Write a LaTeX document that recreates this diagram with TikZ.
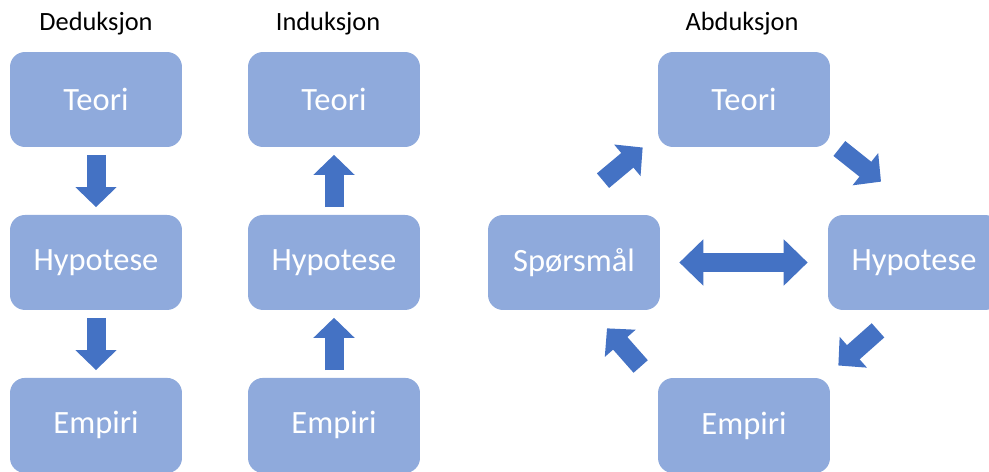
\documentclass[tikz,border=0pt]{standalone}
\usepackage{fontspec}
\setmainfont{Carlito}
\usepackage{tikz}
\usetikzlibrary{arrows.meta}
\usetikzlibrary{calc}
\definecolor{boxblue}{HTML}{8FAADC}
\definecolor{arrowblue}{HTML}{4472C4}

\begin{document}
\begin{tikzpicture}[x=0.02cm,y=-0.02cm,node distance=3.26cm,
			main node/.style={rectangle,rounded corners=0.3cm,fill=boxblue,
				text=white,minimum width=3.44cm,minimum height=1.9cm,
				font=\fontsize{18.5}{22}\selectfont},
			title node/.style={font=\fontsize{15}{18}\selectfont},
			fat arrow/.style={arrowblue,line width=0.38cm,
				-{Triangle[length=0.4cm,width=0.8cm]}},
			gap/.style={shorten <=0.15cm,shorten >=0.15cm}]
			\useasboundingbox (0,0) rectangle (989,472);
			
			% Deduksjon
			\node[title node] (T1) at (96,24) {Deduksjon};
			\node[main node] (A) at (96,99.5) {Teori};
			\node[main node] (B) [below of=A] {Hypotese};
			\node[main node] (C) [below of=B] {Empiri};
			
			% Induksjon
			\node[title node] (T2) at (328,24) {Induksjon};
			\node[main node] (D) at (334,99.5) {Teori};
			\node[main node] (E) [below of=D] {Hypotese};
			\node[main node] (F) [below of=E] {Empiri};
			
			% Abduksjon
			\node[title node] (T3) at (742,24) {Abduksjon};
			\node[main node] (G) at (744,99.5) {Teori};
			\node[main node] (H) at (574,262.5) {Spørsmål};
			\node[main node] (I) at (914,262.5) {Hypotese};
			\node[main node] (J) at (744,425.5) {Empiri};
			
			\path[fat arrow,gap]
			(A) edge (B)
			(B) edge (C)
			(E) edge (D)
			(F) edge (E);
			
			\draw[arrowblue,line width=0.4cm,
				{Triangle[length=0.48cm,width=0.9cm]}-{Triangle[length=0.48cm,width=0.9cm]},
				shorten <=0.38cm,shorten >=0.4cm] (H) -- (I);
			
			\draw[fat arrow] ($(H.north)+(29,-34)$) -- ($(G.west)+(-15,48)$);
			\draw[fat arrow] ($(G.east)+(9,49)$) -- ($(I.north)+(-33,-33)$);
			\draw[fat arrow] ($(I.south)+(-36,20)$) -- ($(J.east)+(8,-60)$);
			\draw[fat arrow] ($(J.west)+(-17,-59)$) -- ($(H.south)+(33,18)$);
		\end{tikzpicture}
\end{document}
